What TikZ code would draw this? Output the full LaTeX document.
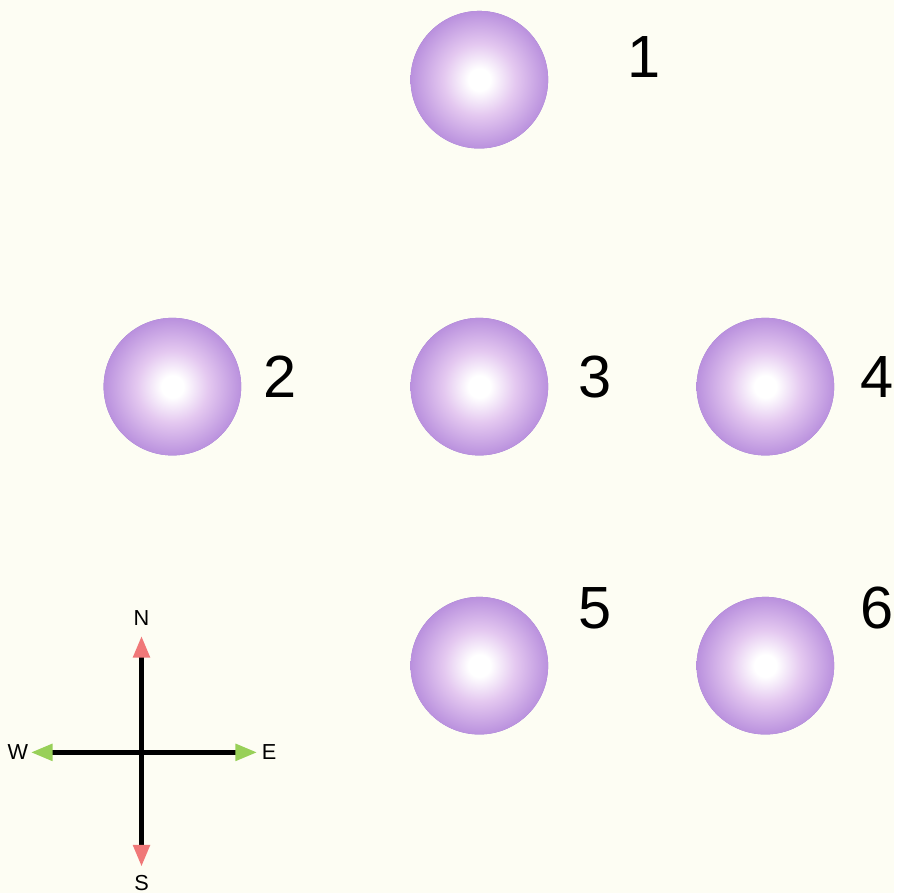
\documentclass[tikz,border=0pt]{standalone}
\usepackage{fontspec}
\setmainfont{Liberation Sans}
\usetikzlibrary{arrows.meta}
\definecolor{paper}{HTML}{FDFDF3}
\definecolor{tipN}{HTML}{F07878}
\definecolor{tipE}{HTML}{98D058}
\definecolor{ballrim}{RGB}{146,116,204}
\pgfdeclareradialshading{ballglow}{\pgfpoint{0bp}{0bp}}{color(0bp)=(white); color(4bp)=(white); color(13bp)=(rgb,255:red,228;green,200;blue,240); color(26bp)=(rgb,255:red,182;green,140;blue,220); color(40bp)=(rgb,255:red,160;green,124;blue,212); color(50bp)=(rgb,255:red,146;green,116;blue,204); color(72bp)=(rgb,255:red,146;green,116;blue,204)}

\begin{document}
\begin{tikzpicture}[x=1cm,y=1cm,
  ball/.style={circle,minimum size=1.38cm,inner sep=0pt,fill=ballrim,shade,shading=ballglow},
  num/.style={font=\fontsize{17}{20}\selectfont,inner sep=1pt},
  dir/.style={font=\fontsize{6.2}{7}\selectfont,inner sep=0.5pt},
  axis/.style={line width=1.5pt}]
\fill[paper] (0,0) rectangle (8.97,8.96);
% balls
\node[ball] (b1) at (4.81,8.16) {};
\node[ball] (b2) at (1.73,5.08) {};
\node[ball] (b3) at (4.81,5.08) {};
\node[ball] (b4) at (7.68,5.08) {};
\node[ball] (b5) at (4.81,2.28) {};
\node[ball] (b6) at (7.68,2.28) {};
% numbers
\node[num] (n1) at (6.46,8.39) {1};
\node[num] (n2) at (2.81,5.18) {2};
\node[num] (n3) at (5.97,5.18) {3};
\node[num] (n4) at (8.80,5.18) {4};
\node[num] (n5) at (5.97,2.86) {5};
\node[num] (n6) at (8.80,2.86) {6};
% compass
\coordinate (c) at (1.42,1.41);
\node[dir] (N) at (1.42,2.76) {N};
\node[dir] (S) at (1.42,0.10) {S};
\node[dir] (W) at (0.18,1.41) {W};
\node[dir] (E) at (2.70,1.41) {E};
\foreach \d/\col/\sh in {N/tipN/0.8mm,S/tipN/0.6mm,W/tipE/0mm,E/tipE/0.2mm}
  \draw[axis,shorten >=\sh,-{Triangle[length=2.2mm,width=1.6mm,color=\col]}] (c) -- (\d);
\end{tikzpicture}
\end{document}
